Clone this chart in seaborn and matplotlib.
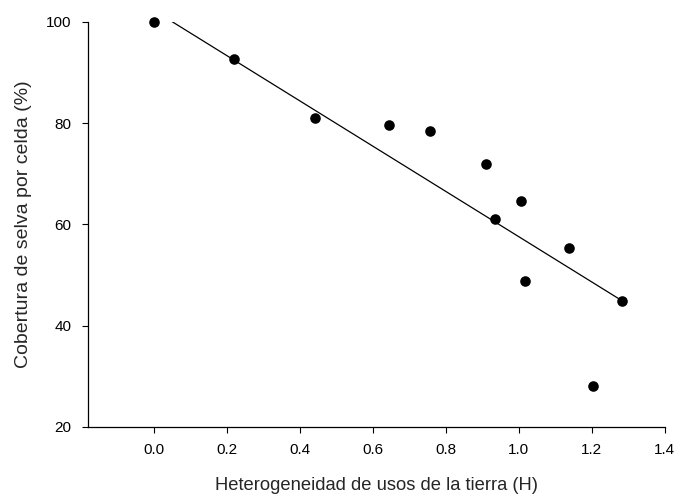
import pandas as pd
import matplotlib
matplotlib.use("Agg")
import matplotlib.pyplot as plt
import seaborn as sns

# Land-use heterogeneity (Shannon H) and forest cover per cell
heterogeneity = [0.0, 0.22, 0.441, 0.645, 0.757, 0.910, 0.935, 1.006, 1.018, 1.137, 1.203, 1.283]
cover_pct = [100.0, 92.7, 81.0, 79.6, 78.5, 71.9, 61.0, 64.6, 48.9, 55.3, 28.1, 44.9]

# fitted regression line (end points)
fit_H = [0.047, 1.283]
fit_cover = [100.2, 44.9]

x_ticks = [0.0, 0.2, 0.4, 0.6, 0.8, 1.0, 1.2, 1.4]
y_ticks = [20, 40, 60, 80, 100]

sns.set_theme(style="ticks")
plt.rcParams["font.family"] = ["Liberation Sans", "DejaVu Sans"]

df = pd.DataFrame({"H": heterogeneity, "cover": cover_pct})
fit = pd.DataFrame({"H": fit_H, "cover": fit_cover})

fig = plt.figure(figsize=(6.77, 4.98), dpi=100)
ax = fig.add_axes([0.13, 0.143, 0.852, 0.813])

sns.lineplot(data=fit, x="H", y="cover", ax=ax, color="black", linewidth=0.9)
sns.scatterplot(data=df, x="H", y="cover", ax=ax, color="black", s=58,
                edgecolor="black", linewidth=0, clip_on=False, zorder=3)

ax.set_xlim(-0.18, 1.4)
ax.set_ylim(20, 100)
ax.set_xticks(x_ticks)
ax.set_xticklabels([f"{v:.1f}" for v in x_ticks])
ax.set_yticks(y_ticks)
ax.set_yticklabels([str(v) for v in y_ticks])

ax.tick_params(direction="out", length=4.5, width=0.8, colors="black",
               labelsize=11, pad=7.5)
for side in ("top", "right"):
    ax.spines[side].set_visible(False)
for side in ("left", "bottom"):
    ax.spines[side].set_linewidth(0.9)
    ax.spines[side].set_color("black")

ax.set_xlabel("Heterogeneidad de usos de la tierra (H)", fontsize=13.2, labelpad=14)
ax.set_ylabel("Cobertura de selva por celda (%)", fontsize=14, labelpad=10)

fig.savefig("out.png", dpi=100, facecolor="white")
